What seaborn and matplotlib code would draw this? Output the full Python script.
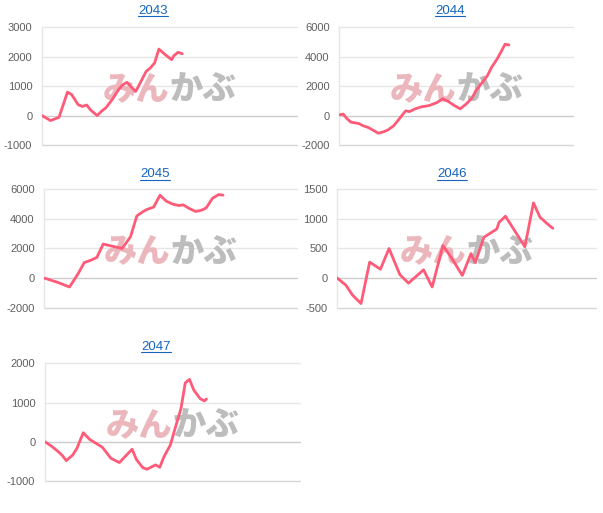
import numpy as np
import pandas as pd
import seaborn as sns
import matplotlib.pyplot as plt
from matplotlib.lines import Line2D

# x = trading day index, y = cumulative value
days_2043 = [0, 4, 8, 12, 14, 17, 19, 21, 23, 26, 28, 30, 33, 36, 38, 40, 44, 45, 47, 49, 51, 53, 55, 58, 61, 62, 64, 66]
vals_2043 = [0, -170, -60, 800, 710, 370, 310, 360, 180, 0, 150, 260, 540, 880, 1050, 1130, 820, 940, 1220, 1500, 1620, 1790, 2260, 2070, 1900, 2030, 2150, 2100]

days_2044 = [0, 2, 4, 6, 10, 12, 15, 17, 20, 23, 25, 28, 31, 34, 36, 39, 42, 46, 48, 50, 53, 56, 59, 62, 65, 68, 70, 73, 76, 78, 81, 83, 85, 87]
vals_2044 = [50, 100, -220, -450, -540, -680, -820, -970, -1200, -1090, -970, -680, -180, 320, 270, 460, 590, 680, 780, 880, 1140, 950, 680, 460, 780, 1180, 1680, 2200, 2720, 3260, 3860, 4350, 4850, 4800]

days_2045 = [0, 6, 12, 16, 19, 22, 25, 28, 31, 34, 37, 41, 44, 47, 49, 52, 55, 58, 61, 64, 66, 69, 72, 75, 77, 80, 83, 85]
vals_2045 = [0, -270, -600, 280, 1050, 1200, 1400, 2300, 2200, 2100, 2000, 2800, 4200, 4500, 4650, 4800, 5600, 5200, 5000, 4900, 4950, 4700, 4500, 4600, 4750, 5400, 5650, 5600]

days_2046 = [0, 4, 7, 11, 15, 20, 24, 29, 33, 40, 44, 49, 53, 58, 62, 64, 68, 71, 74, 75, 78, 87, 91, 94, 97, 100]
vals_2046 = [0, -120, -285, -430, 270, 150, 500, 60, -85, 140, -150, 550, 340, 45, 415, 260, 690, 760, 830, 940, 1045, 530, 1270, 1030, 930, 840]

days_2047 = [0, 3, 6, 8, 10, 13, 15, 18, 21, 24, 27, 29, 31, 35, 38, 41, 43, 46, 48, 52, 54, 56, 59, 61, 64, 66, 68, 70, 73, 75, 76]
vals_2047 = [0, -110, -240, -340, -480, -340, -170, 230, 60, -40, -140, -280, -420, -530, -360, -190, -450, -660, -700, -590, -650, -380, -80, 300, 850, 1500, 1590, 1320, 1100, 1040, 1090]

years = ['2043', '2044', '2045', '2046', '2047']
series = [(days_2043, vals_2043), (days_2044, vals_2044), (days_2045, vals_2045),
          (days_2046, vals_2046), (days_2047, vals_2047)]
y_ticks = [[-1000, 0, 1000, 2000, 3000],
           [-2000, 0, 2000, 4000, 6000],
           [-2000, 0, 2000, 4000, 6000],
           [-500, 0, 500, 1000, 1500],
           [-1000, 0, 1000, 2000]]

sns.set_style('white')
plt.rcParams['font.family'] = ['Liberation Sans', 'DejaVu Sans']

W, H = 603, 513
fig = plt.figure(figsize=(W / 100, H / 100), dpi=100)

# plot-area boxes in pixels: left, right, top, bottom
boxes = [(42, 297, 27.3, 145), (339.3, 573.3, 27.3, 145),
         (44.3, 296.7, 189.3, 307.7), (337.3, 596, 189.3, 307.7),
         (45, 300, 363.3, 481)]
title_pos = [(153, 11), (450, 11), (155, 174), (452, 174), (156, 346.5)]

line_color = '#ff5a78'
titles = []
for i, year in enumerate(years):
    l, r, t, b = boxes[i]
    ax = fig.add_axes([l / W, 1 - b / H, (r - l) / W, (b - t) / H])
    df = pd.DataFrame({'day': series[i][0], 'value': series[i][1]})

    # watermark
    ax.text(0.5, 0.48, 'みん', transform=ax.transAxes, ha='right', va='center',
            fontsize=24, fontweight='heavy', color='#ebb7bc',
            family=['Noto Sans CJK JP'], zorder=1)
    ax.text(0.5, 0.48, 'かぶ', transform=ax.transAxes, ha='left', va='center',
            fontsize=24, fontweight='heavy', color='#bdbdbd',
            family=['Noto Sans CJK JP'], zorder=1)

    sns.lineplot(data=df, x='day', y='value', ax=ax, color=line_color,
                 linewidth=2, zorder=3)

    ticks = y_ticks[i]
    ax.set_ylim(ticks[0], ticks[-1])
    ax.set_xlim(0, 120)
    ax.set_yticks(ticks)
    ax.set_yticklabels([str(v) for v in ticks])
    ax.set_xticks([])
    ax.set_xlabel('')
    ax.set_ylabel('')
    for v in ticks:
        if v == 0:
            c = '#cccccc'
        elif v == ticks[0]:
            c = '#d6d6d6'
        else:
            c = '#e6e6e6'
        ax.axhline(v, color=c, linewidth=1, zorder=0, clip_on=False)
    for s in ['top', 'right', 'bottom']:
        ax.spines[s].set_visible(False)
    ax.spines['left'].set_color('#e6e6e6')
    ax.spines['left'].set_linewidth(1)
    ax.tick_params(axis='y', length=0, pad=7, labelsize=8, labelcolor='#606060')
    ax.patch.set_alpha(0)

    tx, ty = title_pos[i]
    titles.append(fig.text(tx / W, 1 - ty / H, year, ha='center', va='center',
                           fontsize=9.5, color='#1565c0'))

# underline the titles like links
fig.canvas.draw()
renderer = fig.canvas.get_renderer()
for t in titles:
    bb = t.get_window_extent(renderer)
    y = (bb.y0 + 0.5) / H
    fig.add_artist(Line2D([bb.x0 / W, bb.x1 / W], [y, y], color='#1565c0', linewidth=0.8))

plt.savefig('out.png', dpi=100)
